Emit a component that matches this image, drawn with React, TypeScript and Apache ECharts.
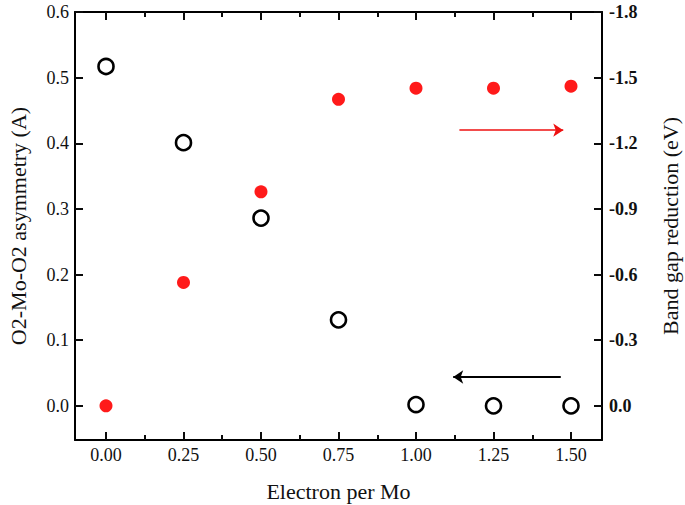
import React, { useEffect, useRef } from "react";
import * as echarts from "echarts";

const electrons = [0, 0.25, 0.5, 0.75, 1.0, 1.25, 1.5];
const asymmetry = [0.517, 0.401, 0.286, 0.131, 0.002, 0.0, 0.0];
const bandGapReduction = [0.0, -0.564, -0.978, -1.401, -1.452, -1.452, -1.461];
const xMajorTicks = [0, 0.25, 0.5, 0.75, 1.0, 1.25, 1.5];
const xMinorTicks = [0.125, 0.375, 0.625, 0.875, 1.125, 1.375];
const leftTicks = [0, 0.1, 0.2, 0.3, 0.4, 0.5, 0.6];
const rightTicks = [-1.8, -1.5, -1.2, -0.9, -0.6, -0.3, 0.0];

const FONT = "'Liberation Serif', 'Times New Roman', serif";

export default function App() {
  const ref = useRef<HTMLDivElement>(null);
  useEffect(() => {
    if (!ref.current) return;
    const chart = echarts.init(ref.current, null, { renderer: "svg" });
    const axisLine = { show: true, onZero: false, lineStyle: { color: "#000", width: 2 } };
    const tick = (values: number[], len: number) => ({
      show: true,
      inside: true,
      length: len,
      customValues: values,
      lineStyle: { color: "#0a0a0a", width: 2 },
    });
    const baseX = {
      type: "value",
      min: -0.1,
      max: 1.6,
      splitLine: { show: false },
    };
    chart.setOption({
      animation: false,
      backgroundColor: "#fff",
      grid: { left: 75, right: 83, top: 12, bottom: 65, outerBoundsMode: "none" },
      xAxis: [
        {
          ...baseX,
          position: "bottom",
          axisLine,
          axisTick: tick(xMajorTicks, 8),
          axisLabel: {
            customValues: xMajorTicks,
            formatter: (v: number) => v.toFixed(2),
            fontFamily: FONT,
            fontSize: 18,
            color: "#111",
            margin: 6,
          },
          name: "Electron per Mo",
          nameLocation: "middle",
          nameGap: 40,
          nameTextStyle: { fontFamily: FONT, fontSize: 22, color: "#111" },
        },
        {
          ...baseX,
          position: "top",
          axisLine,
          axisTick: tick(xMajorTicks, 8),
          axisLabel: { show: false },
        },
        {
          ...baseX,
          position: "bottom",
          axisLine: { show: false, onZero: false },
          axisTick: tick(xMinorTicks, 5),
          axisLabel: { show: false },
        },
        {
          ...baseX,
          position: "top",
          axisLine: { show: false, onZero: false },
          axisTick: tick(xMinorTicks, 5),
          axisLabel: { show: false },
        },
      ],
      yAxis: [
        {
          type: "value",
          position: "left",
          min: -0.052,
          max: 0.6,
          splitLine: { show: false },
          axisLine,
          axisTick: tick(leftTicks, 8),
          axisLabel: {
            customValues: leftTicks,
            formatter: (v: number) => v.toFixed(1),
            fontFamily: FONT,
            fontSize: 18,
            color: "#111",
            margin: 6,
          },
          name: "O2-Mo-O2 asymmetry (A)",
          nameLocation: "middle",
          nameGap: 46,
          nameTextStyle: { fontFamily: FONT, fontSize: 22, color: "#111" },
        },
        {
          type: "value",
          position: "right",
          inverse: true,
          min: -1.8,
          max: 0.156,
          splitLine: { show: false },
          axisLine,
          axisTick: tick(rightTicks, 8),
          axisLabel: {
            customValues: rightTicks,
            formatter: (v: number) => (Math.abs(v) < 1e-9 ? "0.0" : v.toFixed(1)),
            fontFamily: FONT,
            fontSize: 18,
            fontWeight: "bold",
            color: "#111",
            margin: 7,
          },
          name: "Band gap reduction (eV)",
          nameLocation: "middle",
          nameGap: 57,
          nameRotate: 90,
          nameTextStyle: { fontFamily: FONT, fontSize: 22, color: "#111" },
        },
      ],
      series: [
        {
          type: "scatter",
          xAxisIndex: 0,
          yAxisIndex: 1,
          data: electrons.map((x, i) => [x, bandGapReduction[i]]),
          symbol: "circle",
          symbolSize: 13,
          itemStyle: { color: "#ff1a1a", opacity: 1 },
          markLine: {
            silent: true,
            symbol: ["none", "arrow"],
            symbolSize: 10,
            label: { show: false },
            lineStyle: { color: "#ee1111", width: 1.5, type: "solid" },
            data: [[{ coord: [1.14, -1.26] }, { coord: [1.475, -1.26] }]],
          },
        },
        {
          type: "scatter",
          xAxisIndex: 0,
          yAxisIndex: 0,
          data: electrons.map((x, i) => [x, asymmetry[i]]),
          symbol: "circle",
          symbolSize: 15,
          itemStyle: { color: "#fff", borderColor: "#000", borderWidth: 2.6, opacity: 1 },
          markLine: {
            silent: true,
            symbol: ["none", "arrow"],
            symbolSize: 10,
            label: { show: false },
            lineStyle: { color: "#000", width: 2, type: "solid" },
            data: [[{ coord: [1.467, 0.044] }, { coord: [1.12, 0.044] }]],
          },
        },
      ],
    });
    return () => chart.dispose();
  }, []);
  return (
    <div
      ref={ref}
      style={{ position: "fixed", left: 0, top: 0, width: 685, height: 505 }}
    />
  );
}
